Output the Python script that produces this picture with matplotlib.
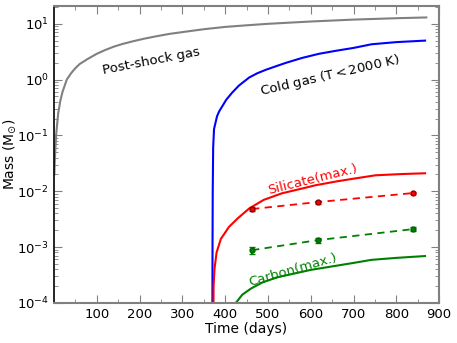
import numpy as np
import matplotlib.pyplot as plt

# post-shock gas
t_gas = [1, 2, 3, 5, 10, 15, 20, 30, 40, 50, 60, 77, 100, 120, 140, 160, 184, 210, 240, 270,
         300, 350, 400, 450, 500, 600, 700, 800, 870]
m_gas = [0.02, 0.035, 0.05, 0.1, 0.25, 0.42, 0.6, 1.0, 1.3, 1.6, 1.9, 2.3, 2.9, 3.4, 3.9, 4.35,
         4.85, 5.4, 6.0, 6.6, 7.1, 8.0, 8.8, 9.4, 10.0, 11.0, 11.9, 12.6, 13.0]

# cold gas (T < 2000 K)
t_cold = [370, 370.5, 371, 372, 374, 381, 386, 393, 402, 416, 432, 456, 475, 495, 520, 542,
          580, 619, 660, 700, 742, 800, 867]
m_cold = [1e-5, 1e-3, 0.01, 0.06, 0.13, 0.22, 0.27, 0.33, 0.43, 0.58, 0.78, 1.09, 1.3, 1.5,
          1.75, 2.0, 2.45, 2.9, 3.3, 3.7, 4.3, 4.7, 5.0]

# silicate (max.)
t_sil = [372, 373, 375, 380, 390, 409, 430, 456, 490, 533, 580, 611, 660, 700, 751, 810, 867]
m_sil = [1e-5, 2e-4, 4e-4, 8e-4, 1.4e-3, 2.3e-3, 3.3e-3, 4.9e-3, 7e-3, 9.2e-3, 0.0112, 0.0128,
         0.015, 0.0168, 0.0193, 0.0203, 0.021]

# carbon (max.)
t_car = [415, 425, 440, 460, 486, 520, 565, 600, 642, 700, 742, 800, 867]
m_car = [7e-5, 1e-4, 1.4e-4, 1.8e-4, 2.3e-4, 2.85e-4, 3.4e-4, 3.9e-4, 4.4e-4, 5.2e-4, 5.9e-4,
         6.4e-4, 6.9e-4]

# observed points
t_obs = [463, 616, 840]
sil_obs = [4.8e-3, 6.4e-3, 9.3e-3]
sil_err = [4e-4, 4e-4, 5e-4]
car_obs = [8.8e-4, 1.33e-3, 2.1e-3]
car_err = [1.4e-4, 1.5e-4, 1.5e-4]

fig = plt.figure(figsize=(4.57, 3.43), dpi=100)
ax = fig.add_axes([0.118, 0.117, 0.843, 0.866])

ax.plot(t_gas, m_gas, color='gray', lw=1.5)
ax.plot(t_cold, m_cold, color='blue', lw=1.5)
ax.plot(t_sil, m_sil, color='red', lw=1.5)
ax.plot(t_car, m_car, color='green', lw=1.5)

ax.errorbar(t_obs, sil_obs, yerr=sil_err, color='red', ls='--', lw=1.3,
            marker='o', ms=3.5, capsize=2, mec='darkred', dashes=(4, 3))
ax.errorbar(t_obs, car_obs, yerr=car_err, color='green', ls='--', lw=1.3,
            marker='o', ms=3.5, capsize=2, mec='darkgreen', dashes=(4, 3))

ax.set_yscale('log')
ax.set_xlim(0, 900)
ax.set_ylim(1e-4, 21)
ax.set_xticks([100, 200, 300, 400, 500, 600, 700, 800, 900])
ax.set_xticks(np.arange(50, 900, 100), minor=True)
ax.tick_params(which='both', direction='in', top=True, right=True, labelsize=9.5, color='gray')
ax.tick_params(which='major', length=6)
ax.tick_params(which='minor', length=3)
for s in ['top', 'right', 'bottom']:
    ax.spines[s].set_color('gray')
    ax.spines[s].set_linewidth(1.5)
ax.spines['left'].set_linewidth(1.2)

ax.set_xlabel('Time (days)', fontsize=10, labelpad=1)
ax.set_ylabel(r'Mass (M$_{\odot}$)', fontsize=10)
ax.yaxis.set_label_coords(-0.092, 0.5)

ax.text(228, 2.1, 'Post-shock gas', rotation=11, fontsize=9.5, ha='center', va='center')
ax.text(644, 1.18, r'Cold gas (T$<$2000 K)', rotation=13, fontsize=9.5, ha='center', va='center')
ax.text(605, 0.0165, 'Silicate(max.)', rotation=14, fontsize=9.5, color='red', ha='center', va='center')
ax.text(558, 3.9e-4, 'Carbon(max.)', rotation=16, fontsize=9.5, color='green', ha='center', va='center')

fig.savefig('out.png', dpi=100)
